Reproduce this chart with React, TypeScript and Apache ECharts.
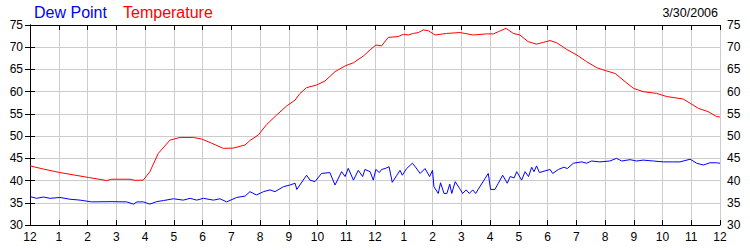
import React, { useEffect, useRef } from "react";
import * as echarts from "echarts";

const tempHours = [0, 0.46, 1.04, 2.03, 2.67, 2.84, 3.48, 3.65, 3.94, 4.17, 4.46, 4.87, 5.22, 5.68, 5.97, 6.32, 6.72, 7.07, 7.48, 7.65, 7.94, 8.23, 8.58, 8.93, 9.22, 9.39, 9.62, 9.97, 10.26, 10.61, 10.96, 11.25, 11.59, 11.83, 12.03, 12.23, 12.46, 12.81, 12.99, 13.16, 13.33, 13.51, 13.68, 13.86, 14.09, 14.49, 14.96, 15.42, 15.88, 16.12, 16.29, 16.56, 16.81, 17.04, 17.33, 17.62, 17.86, 18.09, 18.32, 18.67, 19.02, 19.36, 19.71, 20.06, 20.35, 20.7, 20.99, 21.33, 21.8, 22.15, 22.72, 22.96, 23.25, 23.59, 23.88, 24];
const tempValues = [43.3, 42.6, 41.8, 40.7, 40.0, 40.3, 40.3, 40.05, 40.1, 42, 46.1, 49.1, 49.7, 49.7, 49.35, 48.4, 47.25, 47.3, 48, 49, 50.25, 52.6, 54.75, 56.8, 58.1, 59.6, 60.9, 61.5, 62.4, 64.5, 65.8, 66.5, 68.0, 69.4, 70.5, 70.3, 72.2, 72.4, 72.9, 72.75, 73.1, 73.3, 73.9, 73.7, 72.75, 73.1, 73.3, 72.75, 73, 73, 73.5, 74.25, 73.1, 72.75, 71.25, 70.7, 71.1, 71.5, 71.0, 69.5, 68.25, 66.75, 65.4, 64.65, 64.1, 62.25, 60.75, 60.0, 59.6, 58.9, 58.35, 57.4, 56.25, 55.5, 54.4, 54.3];

const dewHours = [0, 0.23, 0.46, 0.7, 1.04, 1.39, 1.74, 2.14, 2.78, 3.36, 3.6, 3.72, 3.94, 4.17, 4.4, 4.64, 4.99, 5.33, 5.57, 5.8, 6.03, 6.38, 6.61, 6.84, 7.19, 7.48, 7.65, 7.88, 8.12, 8.35, 8.52, 8.81, 9.04, 9.22, 9.28, 9.62, 9.74, 9.91, 10.14, 10.43, 10.61, 10.84, 10.96, 11.07, 11.25, 11.42, 11.57, 11.65, 11.83, 11.94, 12.03, 12.15, 12.23, 12.35, 12.49, 12.6, 12.76, 12.87, 12.95, 13.1, 13.3, 13.4, 13.57, 13.74, 13.9, 14.0, 14.05, 14.2, 14.28, 14.4, 14.5, 14.6, 14.67, 14.79, 14.94, 15.05, 15.17, 15.28, 15.4, 15.5, 15.83, 15.94, 16.02, 16.17, 16.29, 16.44, 16.6, 16.7, 16.84, 16.93, 17.1, 17.22, 17.34, 17.45, 17.53, 17.62, 17.72, 18.09, 18.18, 18.38, 18.57, 18.69, 18.9, 19.19, 19.36, 19.53, 19.82, 20.17, 20.4, 20.58, 20.87, 21.1, 21.33, 21.68, 22.03, 22.38, 22.61, 22.96, 23.19, 23.42, 23.65, 23.88, 24];
const dewValues = [36.4, 36.0, 36.3, 36.0, 36.2, 35.8, 35.6, 35.2, 35.25, 35.2, 34.7, 35.2, 35.2, 34.7, 35.25, 35.5, 35.9, 35.6, 36.0, 35.6, 36.0, 35.6, 35.9, 35.2, 36.2, 36.5, 37.5, 36.75, 37.5, 37.9, 37.5, 38.6, 39, 39.4, 38.0, 41.2, 40.1, 39.75, 41.6, 41.8, 39.0, 42, 40.9, 42.75, 40.1, 42.3, 40.9, 42.5, 42.0, 40.1, 42.5, 41.8, 42.5, 42.7, 43.1, 39.6, 41.2, 42.3, 41.2, 42.7, 43.9, 43.1, 41.6, 42.7, 40.9, 42.3, 38.6, 37.1, 39.5, 37.1, 37.1, 39.2, 37.1, 39.75, 38.25, 37.1, 37.9, 37.1, 37.9, 37.1, 40.5, 41.6, 38.0, 38.0, 39.4, 41.2, 39.4, 40.9, 40.6, 42.0, 40.1, 42.0, 40.9, 43.0, 42.0, 43.3, 41.8, 42.5, 41.6, 42.5, 43.0, 42.7, 43.9, 44.2, 43.9, 44.4, 44.2, 44.4, 45.0, 44.4, 44.7, 44.4, 44.6, 44.4, 44.2, 44.2, 44.2, 44.8, 43.9, 43.5, 44.0, 44.0, 43.9];

const seriesNames = ["Dew Point", "Temperature"];
const dateLabel = "3/30/2006";
const yMin = 30;
const yMax = 75;
const yStep = 5;
const xMin = 0;
const xMax = 24;

const hourLabel = (v: number) => {
  const h = Math.round(v) % 12;
  return String(h === 0 ? 12 : h);
};

const FONT = "Liberation Sans, Arial, sans-serif";

export default function App() {
  const ref = useRef<HTMLDivElement>(null);
  useEffect(() => {
    if (!ref.current) return;
    const chart = echarts.init(ref.current, undefined, { renderer: "svg" });
    const tempData = tempHours.map((h, i) => [h, tempValues[i]]);
    const dewData = dewHours.map((h, i) => [h, dewValues[i]]);
    const axisLine = { show: true, lineStyle: { color: "#000", width: 1 } };
    const tick = { show: true, inside: true, length: 5, lineStyle: { color: "#000", width: 1 } };
    const labelStyle = { color: "#000", fontSize: 12, fontFamily: FONT };
    chart.setOption({
      animation: false,
      backgroundColor: "#fff",
      grid: { left: 30, right: 30, top: 25, bottom: 25, containLabel: false },
      graphic: [
        { type: "text", left: 34, top: 4, style: { text: seriesNames[0], fill: "#0000ff", font: `16px ${FONT}` } },
        { type: "text", left: 123, top: 4, style: { text: seriesNames[1], fill: "#ff0000", font: `16px ${FONT}` } },
        { type: "text", right: 32, top: 6, style: { text: dateLabel, fill: "#000", font: `12.5px ${FONT}` } },
      ],
      xAxis: [
        {
          type: "value", min: xMin, max: xMax, interval: 1, position: "bottom",
          axisLine, axisTick: tick,
          axisLabel: { ...labelStyle, margin: 6, formatter: hourLabel, showMinLabel: true, showMaxLabel: true },
          splitLine: { show: true, lineStyle: { color: "#cccccc", width: 1 } },
        },
        {
          type: "value", min: xMin, max: xMax, interval: 1, position: "top",
          axisLine, axisTick: tick, axisLabel: { show: false }, splitLine: { show: false },
        },
      ],
      yAxis: [
        {
          type: "value", min: yMin, max: yMax, interval: yStep, position: "left",
          axisLine, axisTick: tick,
          axisLabel: { ...labelStyle, margin: 7 },
          splitLine: { show: true, lineStyle: { color: "#cccccc", width: 1 } },
        },
        {
          type: "value", min: yMin, max: yMax, interval: yStep, position: "right",
          axisLine, axisTick: tick,
          axisLabel: { ...labelStyle, margin: 7 },
          splitLine: { show: false },
        },
      ],
      series: [
        {
          name: seriesNames[0], type: "line", data: dewData, xAxisIndex: 0, yAxisIndex: 0,
          showSymbol: false, lineStyle: { color: "#0000ff", width: 1 }, itemStyle: { color: "#0000ff" },
        },
        {
          name: seriesNames[1], type: "line", data: tempData, xAxisIndex: 0, yAxisIndex: 0,
          showSymbol: false, lineStyle: { color: "#ff0000", width: 1 }, itemStyle: { color: "#ff0000" },
        },
      ],
    });
    return () => chart.dispose();
  }, []);
  return <div ref={ref} style={{ position: "fixed", left: 0, top: 0, width: 750, height: 250 }} />;
}
